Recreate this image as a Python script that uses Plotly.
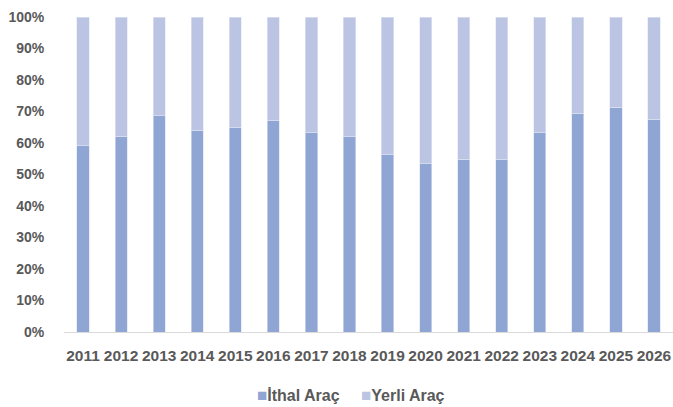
import plotly.graph_objects as go

years = [str(y) for y in range(2011, 2027)]
ithal = [59.1, 62.2, 68.6, 64.1, 64.9, 67.1, 63.2, 62.0, 56.3, 53.4, 54.8, 54.7, 63.2, 69.5, 71.4, 67.6]
yerli = [round(100 - v, 1) for v in ithal]
y_ticks = [0, 10, 20, 30, 40, 50, 60, 70, 80, 90, 100]
y_tick_labels = [f"{v}%" for v in y_ticks]
series_names = ["İthal Araç", "Yerli Araç"]
series_colors = ["#8FA5D4", "#BBC5E3"]

gray = "#595959"
font_family = "Liberation Sans, Arial, sans-serif"

fig = go.Figure()
fig.add_trace(go.Bar(name=series_names[0], x=years, y=ithal,
                     marker=dict(color=series_colors[0], line=dict(color="#DDE3F2", width=0.6))))
fig.add_trace(go.Bar(name=series_names[1], x=years, y=yerli,
                     marker=dict(color=series_colors[1], line=dict(color="#E3E8F4", width=0.6))))

# legend drawn as text keys
legend_x = [0.313, 0.485]
for name, col, lx in zip(series_names, series_colors, legend_x):
    fig.add_annotation(
        xref="paper", yref="paper", x=lx, y=-0.2, xanchor="left", yanchor="middle",
        showarrow=False,
        text=f"<span style='color:{col};font-size:17px'>■</span>{name}",
        font=dict(size=16, color=gray, family=font_family, weight="bold"),
    )

fig.update_layout(
    barmode="stack",
    bargap=0.68,
    width=673, height=407,
    margin=dict(l=64, r=0, t=17, b=75),
    paper_bgcolor="white", plot_bgcolor="white",
    font=dict(family=font_family, color=gray),
    showlegend=False,
    xaxis=dict(type="category", showgrid=False, showline=True, linecolor="#D9D9D9", linewidth=1,
               ticks="outside", ticklen=9, tickcolor="rgba(0,0,0,0)",
               tickfont=dict(size=15.5, color=gray, family=font_family, weight="bold"),
               range=[-0.5, 15.5], automargin=False),
    yaxis=dict(range=[0, 100], tickvals=y_ticks, ticktext=y_tick_labels, showgrid=False,
               zeroline=False, showline=False,
               ticks="outside", ticklen=16, tickcolor="rgba(0,0,0,0)",
               tickfont=dict(size=14, color=gray, family=font_family, weight="bold"),
               automargin=False),
)

fig.write_html("out.html", config={"displayModeBar": False},
               post_script="document.body.style.margin='0';")
